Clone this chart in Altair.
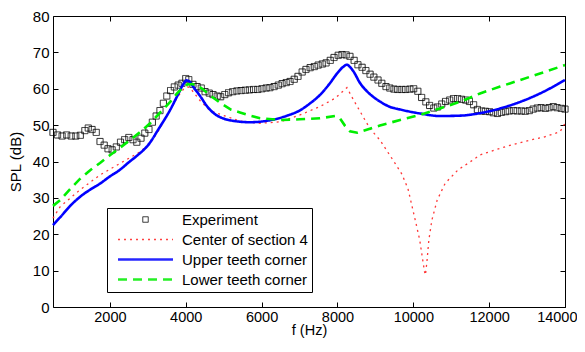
import altair as alt
import pandas as pd

SERIES = ["Experiment", "Center of section 4", "Upper teeth corner", "Lower teeth corner"]
COLORS = ["#000000", "#ff2020", "#0000ff", "#00ee00"]
DASHES = [[1, 0], [2, 4], [1, 0], [9, 6]]

X_TICKS = [2000, 4000, 6000, 8000, 10000, 12000, 14000]
Y_TICKS = [0, 10, 20, 30, 40, 50, 60, 70, 80]

exp_f = [500, 620, 740, 860, 980, 1100, 1220, 1340, 1430, 1530, 1640, 1740, 1850, 1950, 2060,
         2170, 2280, 2390, 2500, 2610, 2710, 2820, 2920, 3030, 3120, 3220, 3320, 3410, 3500,
         3600, 3700, 3800, 3900, 4000, 4080, 4190, 4300, 4410, 4510, 4620, 4720, 4830, 4920,
         5030, 5130, 5240, 5350, 5460, 5570, 5680, 5790, 5900, 6010, 6120, 6220, 6330, 6440,
         6540, 6650, 6750, 6860, 6960, 7070, 7170, 7280, 7390, 7490, 7600, 7700, 7810, 7910,
         8020, 8120, 8230, 8330, 8440, 8540, 8650, 8750, 8860, 8960, 9070, 9170, 9280, 9380,
         9490, 9590, 9700, 9800, 9910, 10010, 10120, 10220, 10330, 10430, 10540, 10640, 10750,
         10850, 10960, 11060, 11170, 11270, 11380, 11480, 11590, 11690, 11800, 11900, 12010,
         12110, 12220, 12320, 12430, 12530, 12640, 12740, 12850, 12950, 13060, 13160, 13270,
         13370, 13480, 13580, 13690, 13790, 13900, 14000]
exp_spl = [48.0, 47.3, 47.0, 47.3, 47.0, 47.0, 47.2, 48.5, 49.2, 48.8, 48.0, 45.5, 44.5, 43.5, 43.2,
           44.0, 45.3, 46.0, 46.6, 46.0, 45.3, 46.4, 47.8, 48.8, 50.8, 52.5, 54.0, 56.0, 58.0,
           59.5, 60.5, 61.0, 61.5, 62.8, 62.5, 61.2, 60.6, 60.2, 59.2, 58.8, 58.4, 58.0, 57.8,
           58.4, 58.9, 59.2, 59.4, 59.5, 59.6, 59.7, 59.8, 59.8, 60.0, 60.2, 60.3, 60.6, 61.0,
           61.4, 61.7, 62.0, 62.6, 63.4, 64.6, 65.3, 65.8, 66.1, 66.5, 66.8, 67.1, 67.8, 68.6,
           69.2, 69.4, 69.3, 68.9, 67.8, 66.6, 65.9, 65.0, 64.0, 63.2, 62.4, 61.5, 60.6, 60.2,
           59.9, 59.8, 59.8, 59.8, 59.9, 60.0, 59.3, 57.6, 56.4, 55.4, 54.7, 55.0, 55.8,
           56.5, 56.9, 57.3, 57.3, 57.1, 56.9, 56.5, 55.6, 54.3, 53.9, 53.8, 53.7,
           53.4, 53.2, 53.5, 53.7, 53.9, 54.0, 53.9, 53.9, 53.8, 54.0, 54.4, 54.7,
           54.8, 54.6, 54.8, 55.1, 54.8, 54.6, 54.4]

red_f = [500, 690, 1210, 1740, 2270, 2800, 3060, 3320, 3590, 3800, 3950, 4050, 4110, 4380,
         4640, 4900, 5430, 5960, 6490, 7010, 7540, 7940, 8250, 8420, 8600, 8860, 9120, 9520,
         9700, 9860, 9960, 10060, 10170, 10240, 10300, 10320, 10360, 10410, 10490, 10630,
         10840, 11180, 11500, 11760, 12160, 12600, 13080, 13470, 13870, 14000]
red_spl = [24.4, 27.6, 32.2, 36.3, 39.5, 42.7, 45.0, 49.1, 54.2, 58.0, 60.0, 60.5, 60.3, 56.7,
           54.0, 53.0, 51.1, 50.5, 50.9, 52.8, 55.1, 57.4, 60.3, 57.0, 53.7, 49.0, 45.9, 39.5,
           36.5, 32.5, 28.0, 23.5, 18.4, 13.5, 9.5, 8.8, 12.5, 18.4, 23.9, 29.4,
           34.0, 37.7, 39.9, 41.8, 43.2, 44.6, 45.9, 46.8, 48.2, 50.5]

blue_f = [500, 700, 1000, 1250, 1500, 1750, 2000, 2250, 2500, 2750, 3000, 3300, 3600, 3800,
          3950, 4020, 4100, 4200, 4380, 4560, 4800, 5000, 5300, 5700, 6200, 6700, 7000, 7280,
          7540, 7800, 7990, 8150, 8250, 8330, 8420, 8600, 8860, 9120, 9390, 9650, 10180,
          10700, 11230, 11760, 12290, 12820, 13340, 14000]
blue_spl = [22.5, 24.8, 28.3, 30.6, 32.4, 34.0, 35.9, 37.6, 39.8, 41.9, 44.4, 49.2, 54.4, 58.5,
            61.5, 62.3, 62.0, 60.5, 58.0, 55.2, 52.8, 51.8, 51.1, 50.8, 51.3, 52.7, 54.0, 56.0,
            58.3, 61.5, 64.2, 66.0, 66.6, 66.0, 64.8, 61.5, 58.5, 56.5, 55.0, 54.3, 53.2,
            52.5, 52.6, 53.3, 54.6, 56.4, 58.7, 62.4]

green_f = [500, 690, 950, 1210, 1480, 1740, 2000, 2270, 2530, 2800, 3060, 3320, 3590, 3770,
           3950, 4050, 4150, 4300, 4460, 4640, 4900, 5200, 5430, 5700, 5960, 6490, 7010, 7540,
           7940, 8070, 8200, 8330, 8520, 8730, 9120, 9650, 10180, 10700, 11230, 11760, 12290,
           12820, 13340, 14000]
green_spl = [27.8, 29.4, 32.4, 35.2, 37.6, 39.6, 41.7, 43.8, 45.9, 48.1, 50.5, 53.4, 56.4, 58.7,
             60.6, 61.2, 61.3, 61.0, 59.8, 58.2, 56.2, 54.2, 53.5, 52.6, 51.9, 51.4, 51.6, 51.9,
             52.5, 51.8, 49.8, 48.3, 47.9, 48.6, 49.9, 51.4, 52.8, 54.6, 56.4, 58.7, 60.6,
             62.4, 64.2, 66.5]


def frame(f, spl, name):
    return pd.DataFrame({"f": f, "spl": spl, "series": name})


FONT = "Liberation Sans"
W, H = 512, 291

x_scale = alt.Scale(domain=[500, 14000], nice=False, zero=False)
y_scale = alt.Scale(domain=[0, 80], nice=False)
color_scale = alt.Scale(domain=SERIES, range=COLORS)
dash_scale = alt.Scale(domain=SERIES, range=DASHES)

legend = alt.Legend(
    title=None, orient="none", legendX=54, legendY=192,
    padding=4, strokeColor="black", fillColor="white", cornerRadius=0,
    symbolSize=100, symbolOffset=27, labelOffset=29,
    symbolType={"expr": "datum.value === 'Experiment' ? 'M-0.55,-0.55H0.55V0.55H-0.55Z' : 'M-5.5,0H5.5'"},
    symbolStrokeWidth={"expr": "datum.value === 'Experiment' ? 1 : (datum.value === 'Center of section 4' ? 1.3 : 2.5)"},
    symbolFillColor="transparent",
    labelExpr="datum.label + '\u00a0\u00a0\u00a0'",
    labelFontSize=15, labelFont=FONT, labelColor="black", rowPadding=4, labelLimit=0,
)

color_enc = alt.Color("series:N", scale=color_scale, legend=legend)
dash_enc = alt.StrokeDash("series:N", scale=dash_scale, legend=legend)

tick_common = dict(labels=False, domain=False, grid=False, ticks=True, tickSize=5,
                   tickColor="black", tickWidth=1, title=None)

x_main = alt.X("f:Q", scale=x_scale, axis=alt.Axis(
    title="f (Hz)", orient="bottom", values=X_TICKS, format="d", ticks=False, tickSize=0,
    domain=False, grid=False, labelPadding=3, labelFontSize=14.5, labelFont=FONT,
    labelFlush=True, labelFlushOffset=12, labelColor="black", titleFontSize=14.5,
    titleFont=FONT, titleFontWeight="normal", titleColor="black", titlePadding=0))
y_main = alt.Y("spl:Q", scale=y_scale, axis=alt.Axis(
    title="SPL (dB)", orient="left", values=Y_TICKS, ticks=False, tickSize=0,
    domain=False, grid=False, labelPadding=4, labelFontSize=15, labelFont=FONT,
    labelFlush=False, labelColor="black", titleFontSize=15, titleFont=FONT,
    titleFontWeight="normal", titleColor="black", titlePadding=9))

exp_layer = alt.Chart(frame(exp_f, exp_spl, "Experiment")).mark_point(
    shape="square", size=38, filled=False, strokeWidth=1, opacity=0.85
).encode(x=x_main, y=y_main, color=color_enc, strokeDash=dash_enc)

red_layer = alt.Chart(frame(red_f, red_spl, "Center of section 4")).mark_line(
    strokeWidth=1.3, opacity=0.9
).encode(
    x=alt.X("f:Q", scale=x_scale, axis=alt.Axis(orient="top", offset=-H, values=X_TICKS, **tick_common)),
    y=alt.Y("spl:Q", scale=y_scale, axis=alt.Axis(orient="right", offset=-W, values=Y_TICKS, **tick_common)),
    color=color_enc, strokeDash=dash_enc)

blue_layer = alt.Chart(frame(blue_f, blue_spl, "Upper teeth corner")).mark_line(
    strokeWidth=2.6, interpolate="monotone"
).encode(
    x=alt.X("f:Q", scale=x_scale, axis=alt.Axis(orient="bottom", offset=-H, values=X_TICKS, **tick_common)),
    y=alt.Y("spl:Q", scale=y_scale, axis=alt.Axis(orient="left", offset=-W, values=Y_TICKS, **tick_common)),
    color=color_enc, strokeDash=dash_enc)

green_layer = alt.Chart(frame(green_f, green_spl, "Lower teeth corner")).mark_line(
    strokeWidth=2.6
).encode(
    x=alt.X("f:Q", scale=x_scale, axis=None),
    y=alt.Y("spl:Q", scale=y_scale, axis=None),
    color=color_enc, strokeDash=dash_enc)

chart = alt.layer(exp_layer, red_layer, blue_layer, green_layer).resolve_axis(
    x="independent", y="independent"
).properties(
    width=W, height=H,
    autosize=alt.AutoSizeParams(type="none"),
    padding={"left": 45, "top": 8, "right": 12, "bottom": 33},
    background="white",
).configure_view(stroke="black", strokeWidth=1)

chart.save("out.html", embed_options={"renderer": "svg", "actions": False})
